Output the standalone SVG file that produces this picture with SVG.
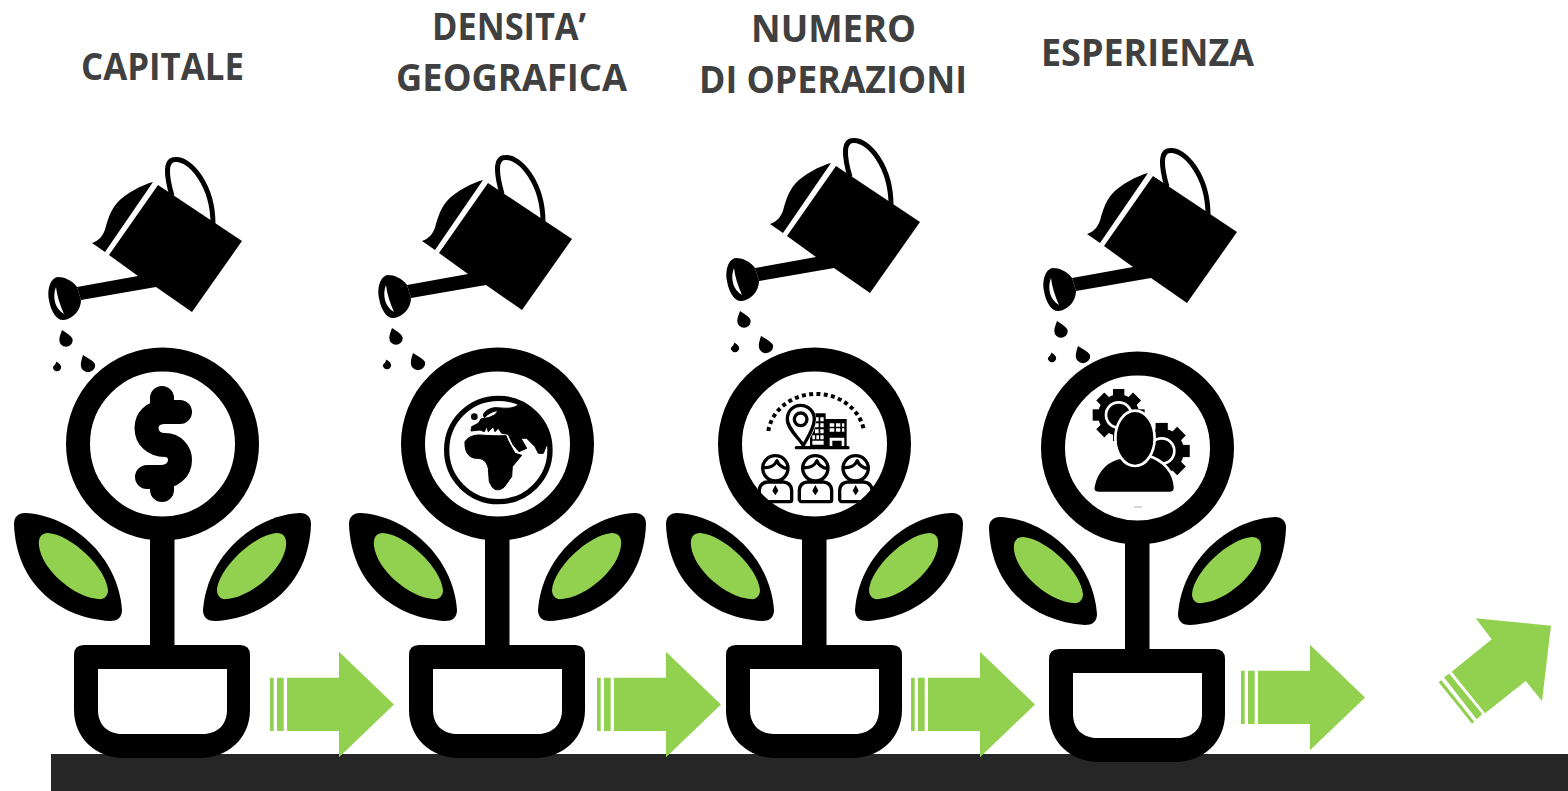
<svg xmlns="http://www.w3.org/2000/svg" xmlns:xlink="http://www.w3.org/1999/xlink" width="1568" height="791" viewBox="0 0 1568 791">
<style>
.t{font-family:"Open Sans","Liberation Sans",sans-serif;font-weight:700;font-size:37px;fill:#404040}
.g{fill:#92d050}
.k{fill:#000}
.w{fill:#fff}
.l{fill:none;stroke:#000;stroke-width:10;stroke-linejoin:round;stroke-linecap:round}
.r{fill:#000;stroke:#000;stroke-width:3;stroke-linejoin:round}
</style>
<defs>
<clipPath id="globeClip"><circle cx="235" cy="240" r="150"/></clipPath>
<g id="can">
<path class="k" d="M158,185L242,241L192,312L156,287L81,300L77,287L138,276L109,255Z"/>
<path class="k" d="M153,182C142,185 126,193 117,203C110,211 108,220 106,226C104,235 99,241 92,243L105,252Z"/>
<path d="M172,196C166,175 165,160 175,159.500C190,158 213,185 213,224" fill="none" stroke="#000" stroke-width="5"/>
<path class="k" d="M77,287C72,280 64,277 58,277C50,278 47,290 49,300C51,312 57,321 64,320C73,319 81,310 81,300Z"/>
<path class="w" d="M56,287C52,297 55,309 64,314C60,305 57,296 56,287Z"/>
<path class="k" d="M62,330C67,333 72.700,337 72.700,340A6.700,6.700 0 1 1 59.300,340C59.300,337 61,333 62,330Z"/>
<path class="k" d="M83,355C88,358 95.200,362 95.200,365A7.200,7.200 0 1 1 80.800,365C80.800,362 82,358 83,355Z"/>
<path class="k" d="M56.500,361.500C58.500,363 61.200,365 61.200,367A4.200,4.200 0 1 1 52.800,367C54.500,365.500 55.500,364 56.500,361.500Z"/>
</g>
<g id="plant">
<circle cx="162.500" cy="444" r="84.500" fill="#fff" stroke="#000" stroke-width="24"/>
<rect class="k" x="150" y="538" width="24.500" height="110"/>
<path class="k" fill-rule="evenodd" d="M84,645H240Q250,645 250,655V710C250,738 228,758 200,758H124C96,758 74,738 74,710V655Q74,645 84,645ZM98,669V710C98,725 108,734 122,734H203C217,734 227,725 227,710V669Z"/>
<g id="leafL">
<path class="k" d="M25,513C70,515 118,555 122,610C122,618 117,621 110,621C60,618 16,585 14,524C14,517 18,513 25,513Z"/>
<path class="g" d="M48,533C72,535 106,568 108,590C108,596 104,600 98,599C74,597 42,570 39,546C38,538 41,533 48,533Z"/>
</g>
<use xlink:href="#leafL" href="#leafL" transform="matrix(-1 0 0 1 325 0)"/>
</g>
<g id="arrow">
<path class="g" d="M270,677.700h3.700v53.300h-3.700zM277,677.700h6.700v53.300h-6.700zM287,677.700h52v-26l55,52.800l-55,52.800v-26.300h-52z"/>
</g>
<g id="person">
<circle cx="121" cy="295" r="38" class="l"/>
<path class="l" d="M85,292C105,295 120,285 126,272C130,285 145,295 157,295"/>
<path class="l" d="M80,395H165Q170,395 170,390V360Q168,338 145,336H97Q75,338 73,360V390Q75,395 80,395Z"/>
<path class="k" d="M121,345L130,362L121,376L112,362Z"/>
</g>
<g id="gear">
<circle r="62" class="k"/>
<g id="teeth">
<rect class="k" x="-17" y="-78" width="34" height="156"/>
<rect class="k" x="-78" y="-17" width="156" height="34"/>
</g>
<use xlink:href="#teeth" href="#teeth" transform="rotate(45)"/>
</g>
</defs>
<rect id="ground" x="51" y="754" width="1517" height="37" fill="#262626"/>
<g id="node-capitale">
<text class="t" x="81" y="79.500" textLength="163" lengthAdjust="spacingAndGlyphs">CAPITALE</text>
<use xlink:href="#can" href="#can"/>
<use xlink:href="#plant" href="#plant"/>
<path d="M180,412H165C152,412 146.500,420 146.500,428C146.500,438 154,445 165,445C174,445 180,452 180,460C180,470 172,477 160,477H147M162,398V412M162,477V490" fill="none" stroke="#000" stroke-width="24" stroke-linecap="round" stroke-linejoin="round"/>
</g>
<g id="node-densita">
<text class="t" x="432" y="39.500" textLength="154" lengthAdjust="spacingAndGlyphs">DENSITA’</text>
<text class="t" x="396" y="90.500" textLength="231" lengthAdjust="spacingAndGlyphs">GEOGRAFICA</text>
<use xlink:href="#can" href="#can" transform="translate(330 -2)"/>
<use xlink:href="#plant" href="#plant" transform="translate(335 0)"/>
<g transform="translate(420 370) scale(.3333)">
<circle cx="235" cy="240" r="155" fill="none" stroke="#000" stroke-width="16"/>
<g clip-path="url(#globeClip)">
<path class="r" d="M290,108C270,119 245,113 225,113C205,115 193,125 190,135L193,143C205,130 220,123 233,122C230,133 220,137 205,143L183,147L175,160L155,170L153,183L180,180L193,185L200,170L205,185L220,170L225,185L235,175L245,190L265,193L270,205L280,225L297,245L320,235L303,205L320,205L345,230L355,250L370,250L380,225L395,235L405,135L335,75Z"/>
<circle class="k" cx="163" cy="140" r="10"/>
<path class="r" d="M135,215C145,200 160,195 180,195C205,197 235,198 258,197L264,212L285,250L305,256L277,290L275,320L252,352C240,362 225,362 217,352L208,335L205,295C200,275 190,265 170,265C150,265 133,250 135,215Z"/>
</g>
</g>
</g>
<g id="node-numero">
<text class="t" x="751" y="41.500" textLength="165" lengthAdjust="spacingAndGlyphs">NUMERO</text>
<text class="t" x="699" y="92.500" textLength="268" lengthAdjust="spacingAndGlyphs">DI OPERAZIONI</text>
<use xlink:href="#can" href="#can" transform="translate(678 -19)"/>
<use xlink:href="#plant" href="#plant" transform="translate(652 0)"/>
<g transform="translate(735 370) scale(.3333)">
<path d="M100,183A145,130 0 0 1 387,183" fill="none" stroke="#000" stroke-width="12" stroke-dasharray="12 10"/>
<path class="k" d="M225,130H272V147H335V232H225Z"/>
<path class="w" d="M240,142h11v12h-11zM256,142h10v12h-10zM240,160h11v12h-11zM256,160h10v12h-10zM240,178h11v12h-11zM256,178h10v12h-10zM232,196h8v12h-8zM244,196h8v12h-8zM256,196h10v12h-10zM232,212h34v12h-34z"/>
<path class="w" d="M284,160h14v10h-14zM303,160h13v10h-13zM321,160h7v10h-7zM284,175h14v10h-14zM303,175h13v10h-13zM321,175h7v10h-7zM284,203h44v25h-8v-16h-28v16h-8z"/>
<path class="w" d="M205,238C185,205 150,178 150,148C150,120 172,100 197,100C222,100 244,120 244,148C244,178 225,205 205,238Z"/>
<path class="l" d="M205,226C190,203 157,175 157,148C157,123 175,106 197,106C220,106 238,124 238,148C238,175 218,203 205,226Z"/>
<circle class="l" cx="197" cy="148" r="19"/>
<path class="l" d="M184,233H339"/>
<use xlink:href="#person" href="#person"/>
<use xlink:href="#person" href="#person" x="120"/>
<use xlink:href="#person" href="#person" x="241"/>
</g>
</g>
<g id="node-esperienza">
<text class="t" x="1041" y="65.500" textLength="213" lengthAdjust="spacingAndGlyphs">ESPERIENZA</text>
<use xlink:href="#can" href="#can" transform="translate(995 -9)"/>
<use xlink:href="#plant" href="#plant" transform="translate(975 4)"/>
<g transform="translate(1060 370) scale(.3333)">
<use xlink:href="#gear" href="#gear" transform="translate(176 135)"/>
<circle cx="176" cy="135" r="38" fill="none" stroke="#fff" stroke-width="8"/>
<use xlink:href="#gear" href="#gear" transform="translate(305 243) scale(1.080)"/>
<circle cx="305" cy="243" r="38" fill="none" stroke="#fff" stroke-width="8"/>
<path class="k" stroke="#fff" stroke-width="8" d="M100,350C110,298 148,265 188,262C205,289 245,289 262,257C312,270 342,308 345,350Q347,369 330,369H115Q97,369 100,350Z"/>
<ellipse class="k" cx="225" cy="205" rx="59" ry="83" stroke="#fff" stroke-width="8"/>
<path d="M222,411H246" stroke="#aaa" stroke-width="3" fill="none"/>
</g>
</g>
<g id="connectors">
<use xlink:href="#arrow" href="#arrow"/>
<use xlink:href="#arrow" href="#arrow" x="327"/>
<use xlink:href="#arrow" href="#arrow" x="641"/>
<use xlink:href="#arrow" href="#arrow" transform="translate(971 -7)"/>
<path class="g" d="M1451.700,671.700L1491.700,639.300L1475.700,618.300L1551,625.700L1542,701L1525.700,681L1485,713.300ZM1444,677.300L1449.300,673.700L1482.300,714L1476.700,719.300ZM1438.700,682.300L1441.300,680.300L1474.300,721.700L1472,723.700Z"/>
</g>
</svg>
